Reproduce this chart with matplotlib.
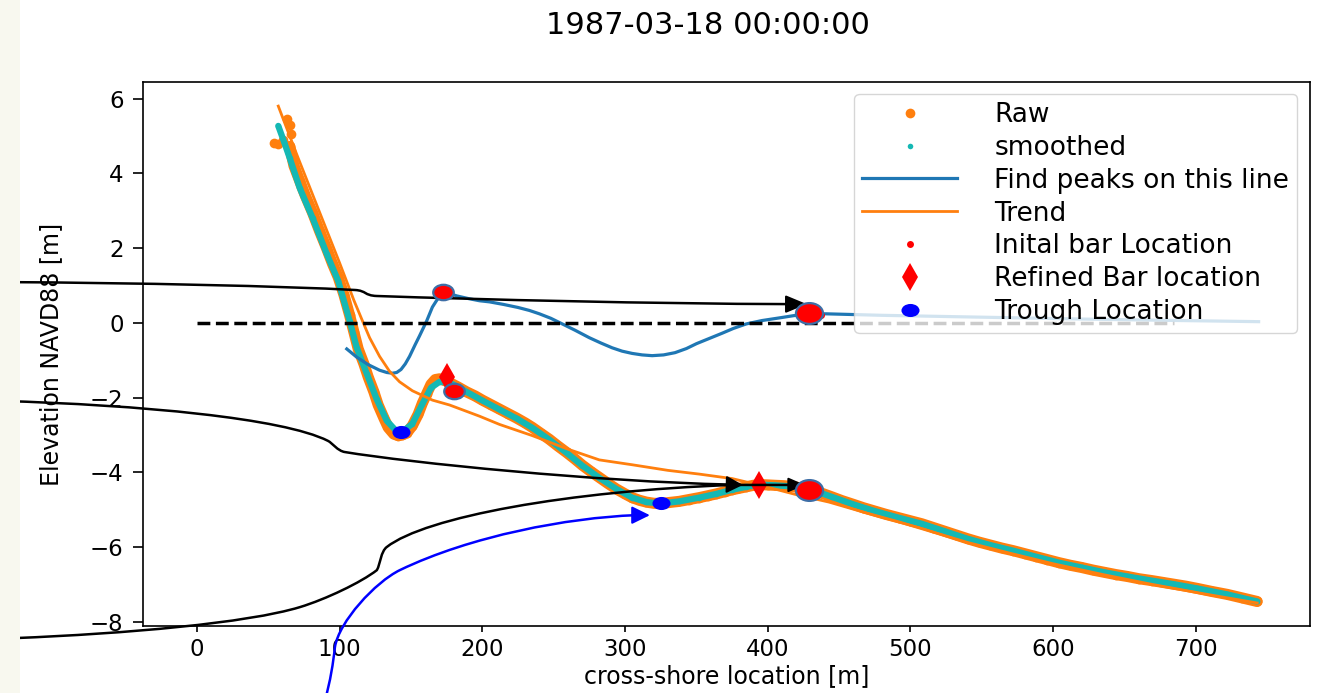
import matplotlib
matplotlib.use("Agg")
import matplotlib.pyplot as plt
from matplotlib.path import Path
from matplotlib.patches import PathPatch, Rectangle
from matplotlib.transforms import Affine2D

TITLE = "1987-03-18 00:00:00"
XLABEL = "cross-shore location [m]"
YLABEL = "Elevation NAVD88 [m]"

# raw survey points; first six are the scatter at the dune top
raw_x = [54, 57, 60, 63, 65, 66, 65, 68, 72, 76, 81, 86, 91, 95, 99, 103, 107, 110,
         113, 117, 120, 124, 127, 131, 134, 138, 141, 144, 147, 151, 155, 158, 161,
         164, 167, 170, 174, 178, 183, 189, 195, 200, 206, 212, 218, 224, 230, 235,
         241, 247, 253, 259, 265, 270, 276, 282, 288, 294, 300, 305, 310, 315, 320,
         325, 331, 338, 345, 352, 358, 364, 370, 375, 380, 385, 390, 394, 400, 405,
         411, 417, 423, 430, 437, 445, 452, 460, 467, 475, 483, 492, 500, 508, 516,
         524, 532, 540, 548, 556, 564, 572, 580, 588, 596, 604, 612, 620, 628, 636,
         644, 652, 660, 669, 677, 685, 693, 701, 711, 722, 732, 743]
raw_y = [4.80, 4.78, 4.90, 5.45, 5.30, 5.05, 4.72, 4.20, 3.80, 3.40, 2.95, 2.45, 1.98,
         1.58, 1.22, 0.75, 0.20, -0.25, -0.70, -1.10, -1.45, -1.85, -2.20, -2.55,
         -2.80, -2.98, -3.02, -3.00, -2.95, -2.75, -2.45, -2.15, -1.90, -1.65, -1.52,
         -1.50, -1.55, -1.62, -1.72, -1.85, -1.96, -2.07, -2.19, -2.31, -2.43, -2.55,
         -2.68, -2.80, -2.96, -3.12, -3.30, -3.47, -3.65, -3.81, -3.98, -4.14, -4.30,
         -4.45, -4.58, -4.68, -4.75, -4.80, -4.83, -4.84, -4.81, -4.78, -4.73, -4.68,
         -4.63, -4.58, -4.52, -4.47, -4.43, -4.39, -4.35, -4.33, -4.34, -4.35, -4.36,
         -4.38, -4.42, -4.47, -4.55, -4.66, -4.76, -4.86, -4.95, -5.04, -5.13, -5.22,
         -5.30, -5.38, -5.48, -5.58, -5.68, -5.78, -5.87, -5.95, -6.03, -6.10, -6.18,
         -6.26, -6.34, -6.42, -6.49, -6.55, -6.62, -6.68, -6.74, -6.79, -6.85, -6.90,
         -6.95, -7.00, -7.05, -7.11, -7.19, -7.27, -7.36, -7.46]
RAW_SCATTER = 6

# smoothed profile
smooth_x = [57, 61, 65, 72, 81, 91, 99, 107, 112, 119, 126, 133, 140, 144, 151, 158,
            164, 170, 177, 189, 200, 212, 224, 235, 247, 259, 270, 282, 294, 305, 315,
            325, 338, 352, 364, 375, 385, 394, 405, 417, 430, 445, 460, 475, 492, 508,
            524, 540, 556, 572, 588, 604, 620, 636, 652, 669, 685, 701, 722, 743]
smooth_y = [5.27, 4.85, 4.41, 3.61, 2.81, 1.84, 1.12, 0.05, -0.67, -1.36, -2.05, -2.62,
            -2.91, -2.92, -2.70, -2.17, -1.74, -1.58, -1.60, -1.85, -2.08, -2.32, -2.56,
            -2.81, -3.13, -3.48, -3.82, -4.15, -4.45, -4.68, -4.80, -4.84, -4.78, -4.68,
            -4.58, -4.47, -4.39, -4.33, -4.35, -4.38, -4.46, -4.66, -4.86, -5.04, -5.22,
            -5.38, -5.58, -5.78, -5.95, -6.10, -6.26, -6.42, -6.55, -6.68, -6.79, -6.90,
            -7.00, -7.11, -7.27, -7.46]

# detrended line used for peak finding
peaks_x = [105, 112, 120, 128, 133, 137, 140, 143, 146, 149, 153, 156, 158, 161, 165,
           168, 171, 174, 178, 182, 190, 198, 205, 215, 225, 233, 240, 248, 256, 265,
           275, 283, 291, 298, 305, 312, 319, 327, 335, 343, 350, 359, 368, 376, 385,
           396, 408, 418, 429, 441, 480, 550, 620, 690, 744]
peaks_y = [-0.70, -0.92, -1.12, -1.27, -1.33, -1.35, -1.33, -1.25, -1.10, -0.90, -0.58,
           -0.35, -0.19, 0.05, 0.42, 0.60, 0.75, 0.80, 0.77, 0.72, 0.65, 0.59, 0.56,
           0.49, 0.41, 0.33, 0.24, 0.12, -0.03, -0.20, -0.40, -0.54, -0.67, -0.76, -0.82,
           -0.86, -0.88, -0.86, -0.80, -0.69, -0.56, -0.42, -0.28, -0.15, -0.03, 0.06,
           0.13, 0.19, 0.24, 0.24, 0.20, 0.15, 0.10, 0.06, 0.03]

trend_x = [57, 70, 85, 100, 110, 116, 121, 128, 135, 142, 151, 165, 177, 198, 212, 235,
           259, 282, 305, 330, 352, 375, 398, 420, 443, 470, 492, 520, 540, 570, 600,
           635, 669, 705, 743]
trend_y = [5.80, 4.50, 3.05, 1.60, 0.60, 0.05, -0.40, -0.90, -1.30, -1.58, -1.82, -2.07,
           -2.20, -2.50, -2.72, -3.02, -3.37, -3.67, -3.80, -3.95, -4.05, -4.17, -4.38,
           -4.60, -4.80, -5.10, -5.33, -5.65, -5.88, -6.17, -6.45, -6.74, -7.00, -7.25,
           -7.50]

init_bar_x = [177, 437]
init_bar_y = [0.74, 0.21]
refined_bar_x = [175, 394]
refined_bar_y = [-1.45, -4.33]
trough_x = [143, 325]
trough_y = [-2.92, -4.83]
zero_x = [0, 685]
zero_y = [0, 0]

# hand-drawn annotation layer: start point followed by cubic Bezier triples (data units)
arrow_a_x = [-138.0, -40, 60, 110.7, 119, 117, 126.1, 200, 320, 414.8]
arrow_a_y = [1.09, 1.07, 0.98, 0.878, 0.86, 0.73, 0.717, 0.62, 0.51, 0.50]
arrow_a_tip = (427.4, 0.50)
arrow_b_x = [-138.0, -40, 60, 91.8, 95, 98.5, 103.7, 150, 280, 373.5]
arrow_b_y = [-2.09, -2.20, -2.55, -3.16, -3.22, -3.43, -3.46, -3.75, -4.25, -4.33]
arrow_b_tip = (382.6, -4.34)
arrow_c_x = [-127.5, -50, 35, 72.2, 90.2, 115, 126.1, 128.6, 128.8, 133.1, 160, 260,
             375.6, 389, 402, 415.5]
arrow_c_y = [-8.44, -8.32, -8.04, -7.61, -7.40, -6.95, -6.62, -6.45, -6.12, -6.00, -5.20,
             -4.50, -4.34, -4.34, -4.34, -4.34]
arrow_c_tip = (426.0, -4.34)
arrow_d_x = [89.7, 93.5, 95.5, 96.7, 99.5, 125, 142.2, 192.2, 260, 306.9]
arrow_d_y = [-10.1, -9.6, -9.1, -8.68, -8.0, -6.94, -6.62, -5.70, -5.22, -5.15]
arrow_d_tip = (317.4, -5.15)
circle_small_x = [172.4, 180.1]
circle_small_y = [0.82, -1.82]
circle_big_x = [428.8, 428.8]
circle_big_y = [0.26, -4.47]

ORANGE = "#ff7f0e"
TEAL = "#14b8b4"
BLUE_LINE = "#1f77b4"
CIRCLE_EDGE = "#3e6ea6"


def ellipse_marker(aspect):
    return Path.unit_circle().transformed(Affine2D().scale(aspect, 1.0))


def bezier_path(xs, ys):
    codes = [Path.MOVETO] + [Path.CURVE4] * (len(xs) - 1)
    return Path(list(zip(xs, ys)), codes)


fig = plt.figure(figsize=(13.22, 6.93), dpi=100)
fig.patches.append(Rectangle((0, 0), 20 / 1322, 1, transform=fig.transFigure,
                             facecolor="#f8f8ef", edgecolor="none", zorder=0))
ax = fig.add_axes([0.10817, 0.09668, 0.88275, 0.78499])
ax.set_xlim(-37.8, 780.0)
ax.set_ylim(-8.116, 6.445)

ax.plot(raw_x[RAW_SCATTER:], raw_y[RAW_SCATTER:], "-", color=ORANGE, lw=8,
        solid_capstyle="round", solid_joinstyle="round")
h_raw, = ax.plot(raw_x, raw_y, "o", color=ORANGE, ms=7, mew=0, label="Raw")
ax.plot(smooth_x, smooth_y, "-", color=TEAL, lw=4.5, solid_capstyle="round")
h_smooth, = ax.plot(smooth_x, smooth_y, "o", color=TEAL, ms=4, mew=0, label="smoothed")
h_peaks, = ax.plot(peaks_x, peaks_y, color=BLUE_LINE, lw=2.3, label="Find peaks on this line")
h_trend, = ax.plot(trend_x, trend_y, color=ORANGE, lw=2, label="Trend")
h_init, = ax.plot(init_bar_x, init_bar_y, "o", color="red", ms=5, mew=0,
                  label="Inital bar Location")
h_ref, = ax.plot(refined_bar_x, refined_bar_y, "d", color="red", ms=14, mew=0,
                 label="Refined Bar location")
h_trough, = ax.plot(trough_x, trough_y, ls="none", marker=ellipse_marker(1.38),
                    color="blue", ms=13, mew=0, label="Trough Location")
ax.plot(zero_x, zero_y, "--", color="black", lw=2.5)

ax.set_xticks([0, 100, 200, 300, 400, 500, 600, 700])
ax.set_yticks([-8, -6, -4, -2, 0, 2, 4, 6])
ax.set_yticklabels(["\u22128", "\u22126", "\u22124", "\u22122", "0", "2", "4", "6"])

ax.tick_params(axis="x", length=4.5, width=1.2, pad=4, labelsize=16.5)
ax.tick_params(axis="y", length=7, width=1.2, pad=7, labelsize=16.5)
for sp in ax.spines.values():
    sp.set_linewidth(1.2)

ax.set_title(TITLE, fontsize=22, x=0.4842, y=1.089, pad=0)
ax.set_xlabel(XLABEL, fontsize=17)
ax.set_ylabel(YLABEL, fontsize=17)
ax.xaxis.set_label_coords(0.5, -0.0699)
ax.yaxis.set_label_coords(-0.0686, 0.5)

ax.legend(handles=[h_raw, h_smooth, h_peaks, h_trend, h_init, h_ref, h_trough],
          loc="upper right", bbox_to_anchor=(0.9889, 0.9779), borderaxespad=0,
          fontsize=19, labelspacing=0.26, handlelength=3.6, handletextpad=1.4,
          borderpad=0.3, numpoints=1)

# annotation curves and arrowheads
for xs, ys, tip, col, hl, hw in [
        (arrow_a_x, arrow_a_y, arrow_a_tip, "black", 0.65, 0.27),
        (arrow_b_x, arrow_b_y, arrow_b_tip, "black", 0.5, 0.26),
        (arrow_c_x, arrow_c_y, arrow_c_tip, "black", 0.5, 0.22),
        (arrow_d_x, arrow_d_y, arrow_d_tip, "blue", 0.55, 0.27)]:
    ax.add_patch(PathPatch(bezier_path(xs, ys), facecolor="none", edgecolor=col,
                           lw=1.8, capstyle="round", joinstyle="round",
                           clip_on=False, zorder=6))
    ax.annotate("", xy=tip, xytext=(xs[-1], ys[-1]), annotation_clip=False,
                arrowprops=dict(arrowstyle=f"-|>,head_length={hl},head_width={hw}",
                                color=col, lw=1.5, mutation_scale=20,
                                shrinkA=0, shrinkB=0), zorder=6)

ax.plot(circle_small_x, circle_small_y, ls="none", marker=ellipse_marker(1.33),
        ms=14.8, mfc="red", mec=CIRCLE_EDGE, mew=1.6, clip_on=False, zorder=7)
ax.plot(circle_big_x, circle_big_y, ls="none", marker=ellipse_marker(1.3),
        ms=19.5, mfc="red", mec=CIRCLE_EDGE, mew=1.6, clip_on=False, zorder=7)

fig.savefig("out.png", dpi=100)
